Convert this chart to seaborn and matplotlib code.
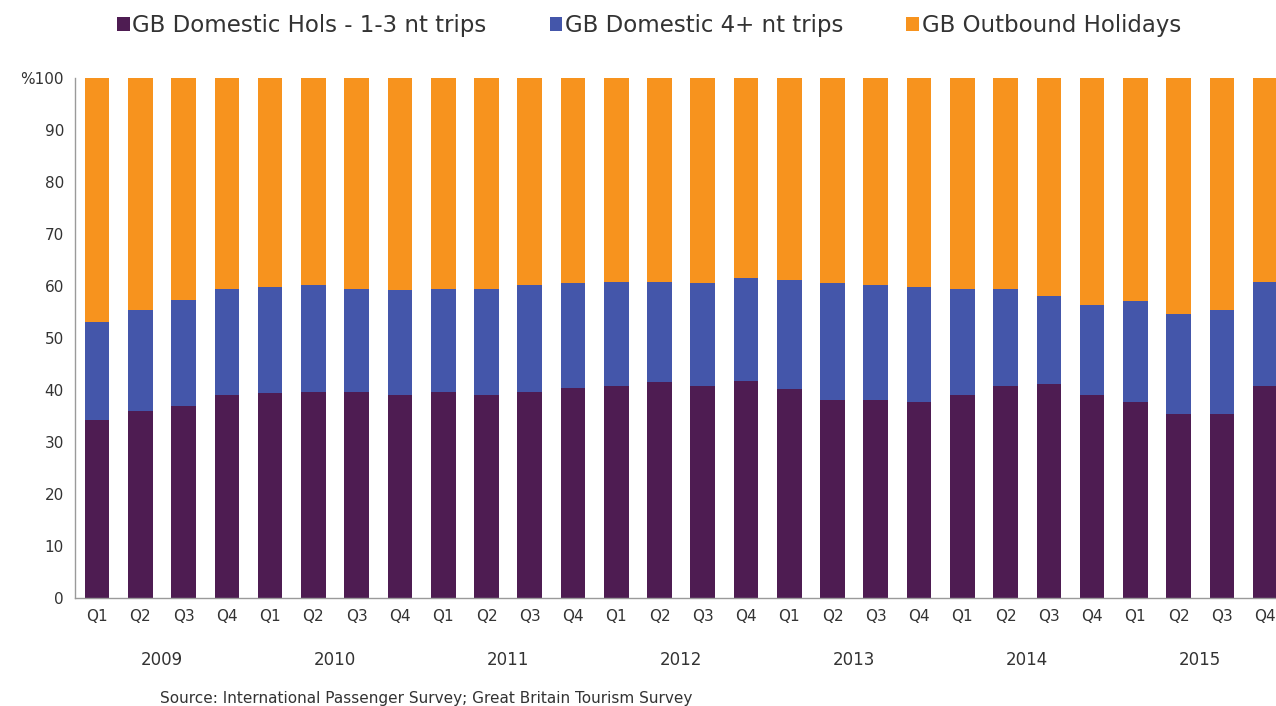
import pandas as pd
import matplotlib
matplotlib.use('Agg')
import matplotlib.pyplot as plt
import seaborn as sns

# Share of holidays by type, % (2009 Q1 - 2015 Q4)
years = ['2009', '2010', '2011', '2012', '2013', '2014', '2015']
quarters = ['Q1', 'Q2', 'Q3', 'Q4']
dom_short = [34.3, 36.0, 37.0, 39.0, 39.4, 39.7, 39.7, 39.0,
             39.7, 39.0, 39.7, 40.4, 40.8, 41.5, 40.8, 41.8,
             40.1, 38.0, 38.0, 37.7, 39.0, 40.8, 41.1, 39.0,
             37.7, 35.3, 35.3, 40.8]
dom_long = [18.8, 19.4, 20.4, 20.5, 20.5, 20.5, 19.8, 20.2,
            19.8, 20.5, 20.5, 20.1, 20.0, 19.3, 19.7, 19.7,
            21.1, 22.5, 22.2, 22.2, 20.5, 18.7, 17.0, 17.4,
            19.4, 19.4, 20.1, 20.0]
outbound = [100 - a - b for a, b in zip(dom_short, dom_long)]

labels = ['GB Domestic Hols - 1-3 nt trips', 'GB Domestic 4+ nt trips', 'GB Outbound Holidays']
colors = ['#4E1C52', '#4456AA', '#F7931E']

periods = [f'{y} {q}' for y in years for q in quarters]
df = pd.DataFrame({'period': periods, 'short': dom_short, 'long': dom_long, 'out': outbound})
df['lvl1'] = df['short']
df['lvl2'] = df['short'] + df['long']
df['lvl3'] = df['lvl2'] + df['out']

sns.set_style('white')
plt.rcParams['font.family'] = ['DejaVu Sans']

fig = plt.figure(figsize=(12.76, 7.06), dpi=100)
ax = fig.add_axes([75 / 1276, 108 / 706, 1 - 75 / 1276, 520 / 706])

w = 0.57
sns.barplot(data=df, x='period', y='lvl3', color=colors[2], width=w, saturation=1,
            linewidth=0, ax=ax, label=labels[2])
sns.barplot(data=df, x='period', y='lvl2', color=colors[1], width=w, saturation=1,
            linewidth=0, ax=ax, label=labels[1])
sns.barplot(data=df, x='period', y='lvl1', color=colors[0], width=w, saturation=1,
            linewidth=0, ax=ax, label=labels[0])

handles, labs = ax.get_legend_handles_labels()
if ax.get_legend() is not None:
    ax.get_legend().remove()

ax.set_xlim(-0.51, 27.25)
ax.set_ylim(0, 100)
ax.set_xlabel('')
ax.set_ylabel('')

yt = list(range(0, 101, 10))
ax.set_yticks(yt)
ax.set_yticklabels([str(v) if v < 100 else '%100' for v in yt], fontsize=11, color='#333333')
ax.set_xticks(range(len(periods)))
ax.set_xticklabels([q for y in years for q in quarters], fontsize=11, color='#333333')
ax.tick_params(axis='both', length=0, pad=8)

for side in ['top', 'right']:
    ax.spines[side].set_visible(False)
for side in ['left', 'bottom']:
    ax.spines[side].set_color('#9a9a9a')
    ax.spines[side].set_linewidth(1)

for i, y in enumerate(years):
    ax.text(4 * i + 1.5, -0.12, y, transform=ax.get_xaxis_transform(),
            ha='center', va='center', fontsize=12, color='#333333')

order = [labs.index(l) for l in labels]
fig.legend([handles[i] for i in order], [labs[i] for i in order],
           loc='center', bbox_to_anchor=(0.5086, 0.964), ncol=3, frameon=False,
           fontsize=16.5, handlelength=0.55, handleheight=0.55, handletextpad=0.12,
           columnspacing=2.75, labelcolor='#333333')

fig.text(160 / 1276, 8 / 706, 'Source: International Passenger Survey; Great Britain Tourism Survey',
         fontsize=11, color='#333333', ha='left', va='center')

fig.savefig('out.png', dpi=100)
